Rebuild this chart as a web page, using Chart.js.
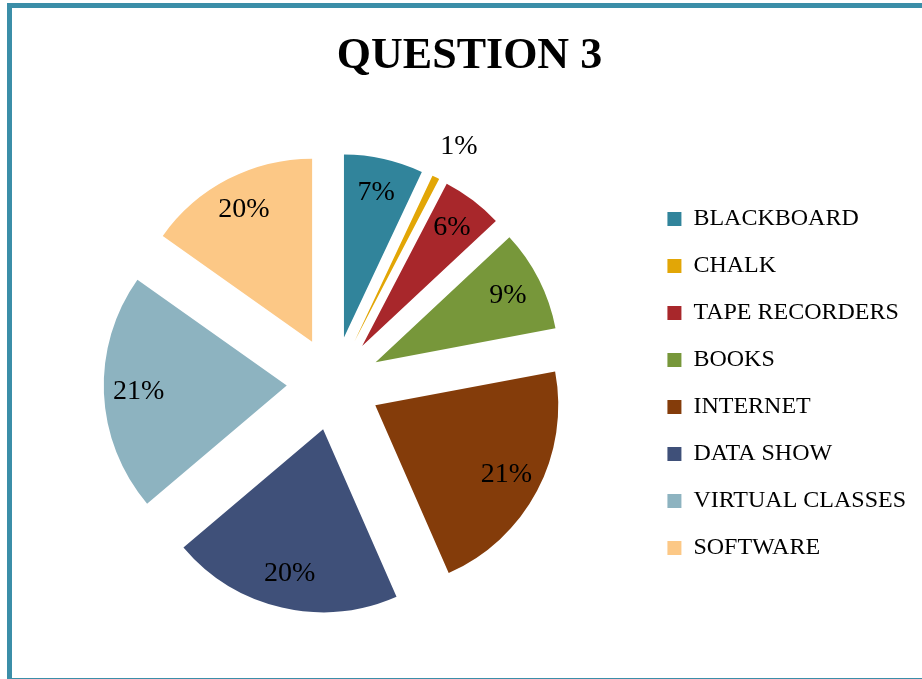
<!DOCTYPE html>
<html>
<head>
<meta charset="utf-8">
<script src="https://cdn.jsdelivr.net/npm/chart.js@4.4.0/dist/chart.umd.min.js"></script>
<style>
    html, body { margin: 0; padding: 0; overflow: hidden; background: #fff; }
    #marco {
        position: absolute; left: 7px; top: 3px; width: 940px; height: 680px;
        box-sizing: border-box; border: 5px solid #3b8ea8; pointer-events: none;
    }
    canvas { position: absolute; left: 0; top: 0; }
</style>
</head>
<body>
<canvas id="myChart" width="922" height="679"></canvas>
<div id="marco"></div>
<script>
const categorias = ["BLACKBOARD", "CHALK", "TAPE RECORDERS", "BOOKS", "INTERNET", "DATA SHOW", "VIRTUAL CLASSES", "SOFTWARE"];
const valores = [7.0, 0.65, 5.4, 9.0, 21.4, 20.4, 21.0, 15.2];
// textos tal como aparecen en el gráfico
const etiquetas = ["7%", "1%", "6%", "9%", "21%", "20%", "21%", "20%"];
const colores = ["#31849b", "#e2a606", "#a8272b", "#77973a", "#843c0a", "#3f5079", "#8db3c0", "#fcc886"];

const SEPARACION = 47;
const fuente = "'Liberation Serif', 'Times New Roman', serif";

let grapharea = document.getElementById("myChart").getContext("2d");

// separa cada porción del centro
const separarPorciones = {
    id: "separarPorciones",
    afterDatasetUpdate(chart, args) {
        const meta = chart.getDatasetMeta(args.index);
        meta.data.forEach((arco) => {
            const medio = (arco.startAngle + arco.endAngle) / 2;
            arco.x += Math.cos(medio) * SEPARACION;
            arco.y += Math.sin(medio) * SEPARACION;
        });
    },
};

// porcentajes sobre las porciones
const etiquetasPorcentaje = {
    id: "etiquetasPorcentaje",
    afterDatasetsDraw(chart) {
        const ctx = chart.ctx;
        const meta = chart.getDatasetMeta(0);
        ctx.save();
        ctx.font = "28px " + fuente;
        ctx.fillStyle = "#000";
        ctx.textAlign = "center";
        ctx.textBaseline = "middle";
        meta.data.forEach((arco, i) => {
            const medio = (arco.startAngle + arco.endAngle) / 2;
            let dist = arco.outerRadius * 0.81;
            let x = arco.x + Math.cos(medio) * dist;
            if (arco.endAngle - arco.startAngle < 0.1) {
                // porción muy fina: texto fuera, a la derecha del borde
                dist = arco.outerRadius + 34;
                x = arco.x + Math.cos(medio) * dist + 8;
            }
            ctx.fillText(etiquetas[i], x, arco.y + Math.sin(medio) * dist);
        });
        ctx.restore();
    },
};

const data = {
    labels: categorias,
    datasets: [
        {
            data: valores,
            backgroundColor: colores,
            borderWidth: 0,
            radius: 183,
        },
    ],
};

const config = {
    type: "pie",
    data: data,
    options: {
        responsive: false,
        animation: false,
        layout: { padding: { left: 23, right: 6, top: 0, bottom: 89 } },
        plugins: {
            title: {
                display: true,
                text: "QUESTION 3",
                color: "#000",
                font: { family: fuente, size: 44, weight: "bold" },
                padding: { top: 30, bottom: 94 },
            },
            legend: {
                position: "right",
                fullSize: false,
                labels: {
                    color: "#000",
                    font: { family: fuente, size: 24 },
                    boxWidth: 14,
                    boxHeight: 14,
                    padding: 23,
                },
            },
            tooltip: { enabled: false },
        },
    },
    plugins: [separarPorciones, etiquetasPorcentaje],
};

let myChart = new Chart(grapharea, config);
</script>
</body>
</html>
